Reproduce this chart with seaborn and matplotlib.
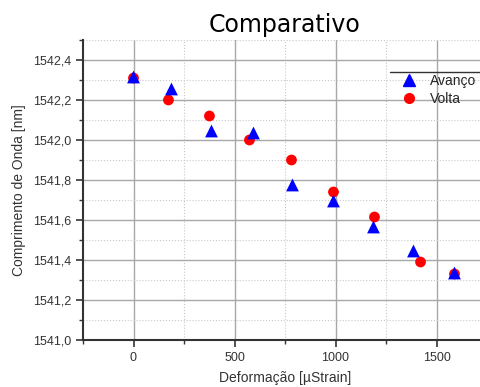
import numpy as np
import pandas as pd
import matplotlib
matplotlib.use("Agg")
import matplotlib.pyplot as plt
from matplotlib.ticker import MultipleLocator, FuncFormatter
from matplotlib.lines import Line2D
import seaborn as sns

# Data
avanco_x = [0, 188, 386, 594, 787, 990, 1188, 1386, 1589]
avanco_y = [1542.315, 1542.255, 1542.045, 1542.035, 1541.775, 1541.695, 1541.565, 1541.445, 1541.335]
volta_x = [0, 173, 376, 574, 782, 990, 1193, 1421, 1589]
volta_y = [1542.31, 1542.20, 1542.12, 1542.00, 1541.90, 1541.74, 1541.615, 1541.39, 1541.33]

df = pd.concat([
    pd.DataFrame({"x": volta_x, "y": volta_y, "serie": "Volta"}),
    pd.DataFrame({"x": avanco_x, "y": avanco_y, "serie": "Avanço"}),
])

sns.set_theme(style="white")
plt.rcParams["font.family"] = ["Liberation Sans", "DejaVu Sans"]

fig = plt.figure(figsize=(4.8, 3.87), dpi=100)
ax = fig.add_axes([83 / 480, 47 / 387, 404 / 480, 300 / 387])

# grid first so markers sit above
ax.set_axisbelow(True)
ax.xaxis.set_major_locator(MultipleLocator(500))
ax.xaxis.set_minor_locator(MultipleLocator(250))
ax.yaxis.set_major_locator(MultipleLocator(0.2))
ax.yaxis.set_minor_locator(MultipleLocator(0.1))
ax.grid(which="major", color="#a8a8a8", linewidth=1.0, linestyle="-")
ax.grid(which="minor", color="#c8c8c8", linewidth=0.8, linestyle=":")

sns.scatterplot(data=df[df["serie"] == "Volta"], x="x", y="y", marker="o",
                color="#ff0000", s=60, edgecolor="none", ax=ax, legend=False, zorder=3)
sns.scatterplot(data=df[df["serie"] == "Avanço"], x="x", y="y", marker="^",
                color="#0000ff", s=85, edgecolor="none", ax=ax, legend=False, zorder=4)

ax.set_xlim(-250, 1750)
ax.set_ylim(1541.0, 1542.5)
ax.yaxis.set_major_formatter(FuncFormatter(lambda v, p: f"{v:.1f}".replace(".", ",")))

for s in ["top", "right"]:
    ax.spines[s].set_visible(False)
for s in ["left", "bottom"]:
    ax.spines[s].set_color("#333333")
    ax.spines[s].set_linewidth(1.5)

ax.tick_params(which="major", direction="out", length=5, width=1.2, color="#333333",
               labelsize=9, labelcolor="#333333", left=True, bottom=True)
ax.tick_params(which="minor", direction="out", length=3, width=1.0, color="#333333",
               left=True, bottom=True)

ax.set_xlabel("Deformação [µStrain]", fontsize=10, color="#333333", labelpad=5)
ax.set_ylabel("Comprimento de Onda [nm]", fontsize=10, color="#333333", labelpad=5)
ax.set_title("Comparativo", fontsize=17, family=["DejaVu Sans"], color="black", pad=6)

handles = [
    Line2D([], [], marker="^", color="#0000ff", linestyle="none", markersize=8),
    Line2D([], [], marker="o", color="#ff0000", linestyle="none", markersize=7),
]
leg = ax.legend(handles, ["Avanço", "Volta"], loc="upper left",
                bbox_to_anchor=(0.76, 0.905), frameon=False, fontsize=10,
                handletextpad=0.5, labelspacing=0.3, borderaxespad=0)
ax.add_line(Line2D([0.76, 1.0], [0.893, 0.893], transform=ax.transAxes,
                   color="#333333", linewidth=1.0, clip_on=False))

fig.savefig("out.png", dpi=100)
